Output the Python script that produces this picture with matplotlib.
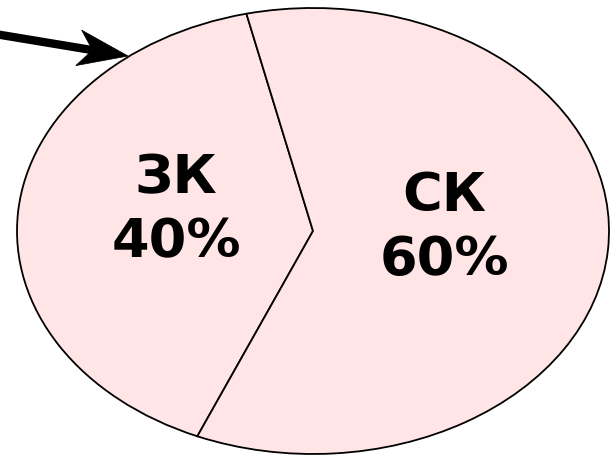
import matplotlib
matplotlib.use("Agg")
import numpy as np
import matplotlib.pyplot as plt
from matplotlib.patches import Polygon
from matplotlib.lines import Line2D

categories = ["ЗК", "СК"]
values = [40, 60]

W, H = 615, 455
fig = plt.figure(figsize=(W / 100, H / 100), dpi=100)
# ellipse spans x 17..609 px, y 8..454 px (top-down)
ax = fig.add_axes([17 / W, (H - 454) / H, 592 / W, 446 / H])

ax.pie(values, startangle=103, counterclock=True,
       colors=["#FFE5E5", "#FFE5E5"],
       wedgeprops=dict(edgecolor="black", linewidth=1.3))
ax.set_aspect("auto")
ax.set_xlim(-1, 1)
ax.set_ylim(-1, 1)
ax.axis("off")

def px(x, y):
    return ((x - 313) / 296, (231 - y) / 223)

label_pos = [px(176, 210), px(444, 228)]
for cat, val, (lx, ly) in zip(categories, values, label_pos):
    ax.text(lx, ly, f"{cat}\n{val}%", ha="center", va="center",
            fontsize=39, fontweight="bold", family="DejaVu Sans",
            linespacing=1.3)

# pointer arrow (figure pixel coords, top-down)
def fp(x, y):
    return (x / W, 1 - y / H)

tail = np.array([-5.0, 34.0])
tip = np.array([128.0, 56.0])
d = (tip - tail) / np.linalg.norm(tip - tail)
perp = np.array([-d[1], d[0]])
base = tip - 50 * d
notch = tip - 36 * d
head = [fp(*tip), fp(*(base + 18 * perp)), fp(*notch), fp(*(base - 18 * perp))]
fig.add_artist(Line2D([fp(*tail)[0], fp(*notch)[0]], [fp(*tail)[1], fp(*notch)[1]],
                      transform=fig.transFigure, color="black", lw=6,
                      solid_capstyle="butt"))
fig.add_artist(Polygon(head, closed=True, transform=fig.transFigure,
                       facecolor="black", edgecolor="black", lw=0.5))

fig.savefig("out.png", dpi=100)
